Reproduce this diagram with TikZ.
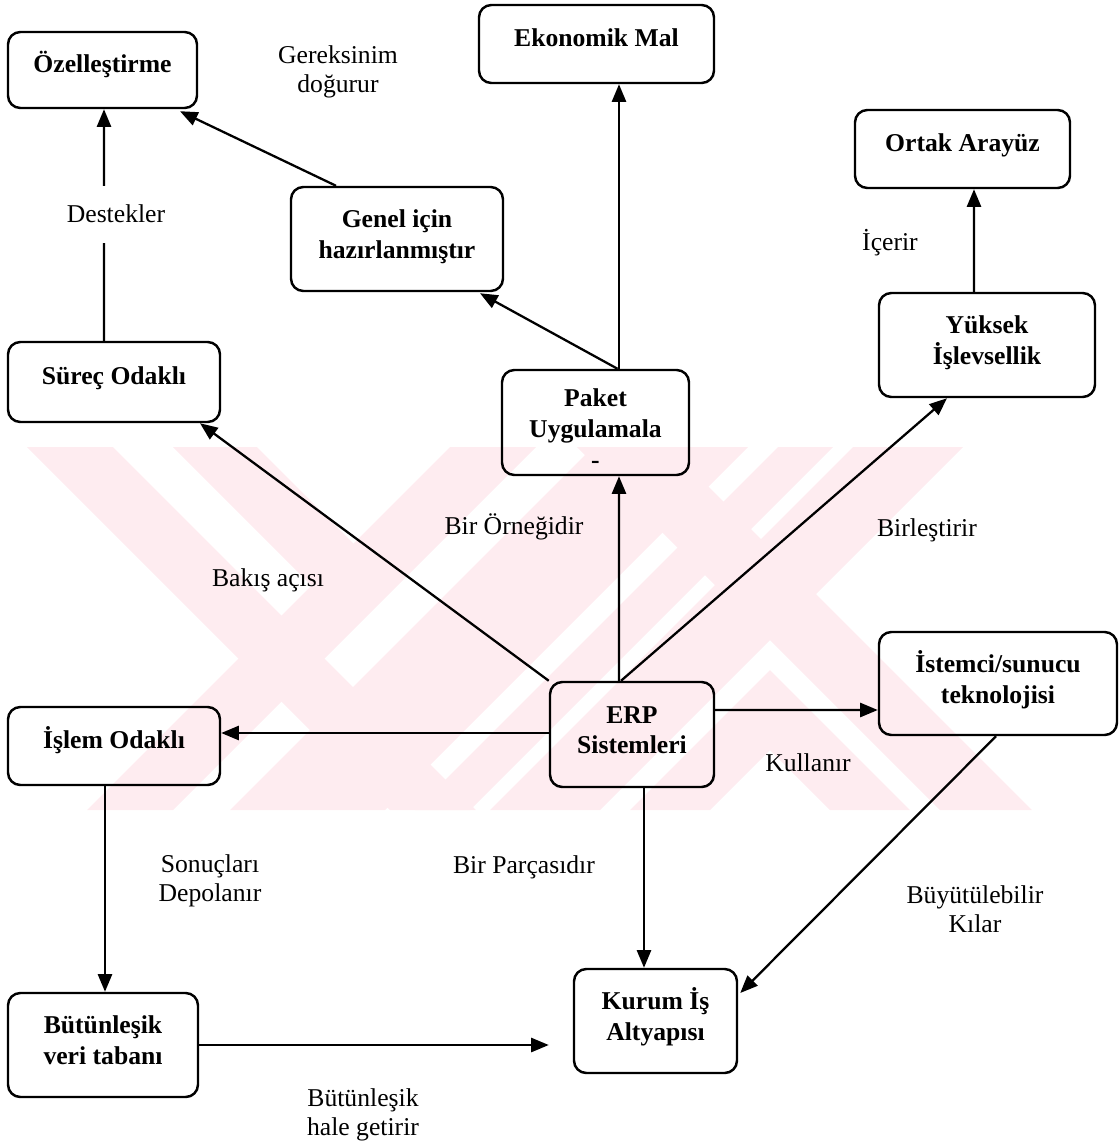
\documentclass[tikz,border=0pt]{standalone}
\usepackage{fontspec}
\setmainfont{Liberation Serif}
\usetikzlibrary{arrows.meta,calc}
\definecolor{wm}{RGB}{254,236,240}
\newcommand\bt[2][4pt]{\raisebox{0pt}[\height][\dimexpr\depth+#1\relax]{\begin{tabular}{@{}c@{}}#2\end{tabular}}}
\begin{document}
\begin{tikzpicture}[x=0.02cm,y=-0.02cm,
  box/.style={draw,line width=1.4pt,rounded corners=7pt,inner sep=0pt,
     font=\fontsize{14.6}{17.5}\selectfont\bfseries},
  wh/.style 2 args={minimum width=#1*0.02cm,minimum height=#2*0.02cm},
  lbl/.style={align=center,inner sep=1pt,font=\fontsize{14.6}{16.5}\selectfont},
  arr/.style={line width=1.3pt,-{Triangle[length=10pt,width=8pt]}},
  wmark/.style={fill=wm,draw=none}]
\useasboundingbox (0,0) rectangle (1119,1147);
% watermark
\begin{scope}
\clip (25,447) rectangle (1035,810);
\fill[wmark] (27,447) -- (113,447) -- (476,810) -- (390,810) -- cycle;
\fill[wmark] (450,447) -- (536,447) -- (173,810) -- (87,810) -- cycle;
\fill[wmark] (173,447) -- (257,447) -- (360,550) -- (318,592) -- cycle;
\fill[wmark] (593,447) -- (748,447) -- (385,810) -- (230,810) -- cycle;
\fill[wmark] (778,447) -- (833,447) -- (470,810) -- (415,810) -- cycle;
\fill[wmark] (853,447) -- (963,447) -- (600,810) -- (490,810) -- cycle;
\fill[wmark] (577,447) -- (669,447) -- (1032,810) -- (940,810) -- cycle;
\fill[wmark] (770,670) -- (910,810) -- (830,810) -- (770,750) -- (710,810) -- (630,810) -- cycle;
\end{scope}
% boxes
\node[box,wh={189}{76}]  (oz)  at (102.5,70)  {\bt{Özelleştirme}};
\node[box,wh={235}{78}]  (ek)  at (596.5,44)  {\bt{Ekonomik Mal}};
\node[box,wh={212}{104}] (gen) at (397,239)   {\bt[2.5pt]{Genel için\\hazırlanmıştır}};
\node[box,wh={215}{78}]  (ort) at (962.5,149) {\bt{Ortak Arayüz}};
\node[box,wh={216}{104}] (yuk) at (987,345)   {\bt[2.5pt]{Yüksek\\İşlevsellik}};
\node[box,wh={212}{80}]  (sur) at (114,382)   {\bt{Süreç Odaklı}};
\node[box,wh={187}{105}] (pak) at (595.5,422.5) {\bt[-10pt]{Paket\\Uygulamala\\-}};
\node[box,wh={212}{78}]  (isl) at (114,746)   {\bt{İşlem Odaklı}};
\node[box,wh={164}{105}] (erp) at (632,734.5) {\bt[2.5pt]{ERP\\Sistemleri}};
\node[box,wh={238}{103}] (ist) at (998,683.5) {\bt[2.5pt]{İstemci/sunucu\\teknolojisi}};
\node[box,wh={190}{104}] (but) at (103,1045)  {\bt[2.5pt]{Bütünleşik\\veri tabanı}};
\node[box,wh={163}{104}] (kur) at (655.5,1021) {\bt[2.5pt]{Kurum İş\\Altyapısı}};
% connectors
\draw[arr] ($(gen.north)+(-61,0)$) -- ($(oz.south)+(77.5,2)$);
\draw[arr] ($(pak.north)+(22,0)$) -- ($(gen.south)+(83,1)$);
\draw[arr] ($(pak.north)+(23.5,0)$) -- ($(ek.south)+(22.5,0)$);
\draw[arr] ($(yuk.north)+(-13,0)$) -- ($(ort.south)+(11.5,0)$);
\draw[arr] ($(sur.north)+(-10,0)$) -- ($(oz.south)+(1.5,0)$);
\draw[arr] (erp.north west) -- ($(sur.south)+(86,0)$);
\draw[arr] ($(erp.north)+(-13,0)$) -- ($(pak.south)+(23.5,0)$);
\draw[arr] ($(erp.north)+(-11,0)$) -- ($(yuk.south)+(-40,0)$);
\draw[arr] ($(erp.west)+(0,-1.5)$) -- ($(isl.east)+(0,-13)$);
\draw[arr] ($(erp.east)+(0,-24.5)$) -- ($(ist.west)+(0,26.5)$);
\draw[arr] ($(erp.south)+(12,0)$) -- ($(kur.north)+(-11.5,0)$);
\draw[arr] ($(ist.south)+(-2,0)$) -- ($(kur.east)+(2,-28)$);
\draw[arr] ($(isl.south)+(-9,0)$) -- ($(but.north)+(2,0)$);
\draw[arr] (but.east) -- ($(kur.west)+(-24,24)$);
% labels
\node[lbl] (l1) at (338,72) {Gereksinim\\doğurur};
\node[lbl,fill=white,minimum height=57*0.02cm] (l2) at (116,214) {Destekler};
\node[lbl] (l3) at (890,243) {İçerir};
\node[lbl] (l4) at (268,580) {Bakış açısı};
\node[lbl] (l5) at (514,527) {Bir Örneğidir};
\node[lbl] (l6) at (927,530) {Birleştirir};
\node[lbl] (l7) at (808,763) {Kullanır};
\node[lbl] (l8) at (210,881) {Sonuçları\\Depolanır};
\node[lbl] (l9) at (524,867) {Bir Parçasıdır};
\node[lbl] (l10) at (975,909) {Büyütülebilir\\Kılar};
\node[lbl] (l11) at (363,1115) {Bütünleşik\\hale getirir};
\end{tikzpicture}
\end{document}
